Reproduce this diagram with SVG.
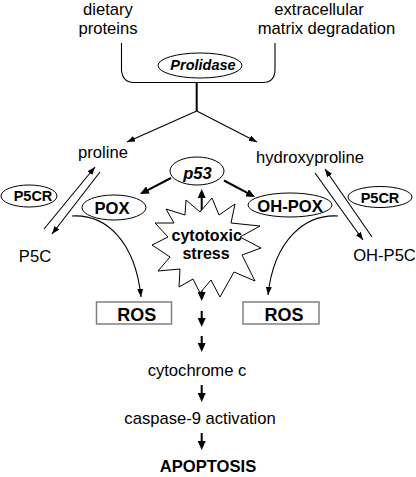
<svg xmlns="http://www.w3.org/2000/svg" width="416" height="477" viewBox="0 0 416 477">
<style>
text{font-family:"Liberation Sans",Arial,sans-serif;fill:#000;text-anchor:middle}
.t{font-size:16.6px}
.b{font-weight:bold}
.bi{font-weight:bold;font-style:italic}
.el{fill:#fff;stroke:#000;stroke-width:1}
.ln{fill:none;stroke:#000;stroke-width:1.1}
.tk{fill:none;stroke:#000;stroke-width:2}
.box{fill:#fff;stroke:#808080;stroke-width:1.5}
</style>
<defs>
<marker id="ah" viewBox="0 0 8 6" refX="8" refY="3" markerWidth="8" markerHeight="6" orient="auto" markerUnits="userSpaceOnUse"><path d="M0,0L8,3L0,6z" fill="#000"/></marker>
<marker id="ahb" viewBox="0 0 9 8" refX="3" refY="4" markerWidth="9" markerHeight="8" orient="auto" markerUnits="userSpaceOnUse"><path d="M0,0L9,4L0,8z" fill="#000"/></marker>
</defs>
<rect width="416" height="477" fill="#fff"/>
<g id="sources">
<text class="t" x="108" y="14.5">dietary</text>
<text class="t" x="108" y="33.5">proteins</text>
<text class="t" x="319" y="14.5">extracellular</text>
<text class="t" x="326.5" y="33.5">matrix degradation</text>
<path class="ln" d="M121.5,43 L121.5,70 Q122.5,82.5 134,82.5 L263,82.5 Q274.5,82.5 275,70 L275,43"/>
</g>
<g id="prolidase">
<ellipse class="el" cx="200" cy="65.5" rx="42" ry="12.5"/>
<text class="bi" x="203" y="69.5" font-size="14.5">Prolidase</text>
</g>
<g id="connectors">
<line class="tk" x1="196.7" y1="83" x2="196.7" y2="111"/>
<line class="ln" x1="196.7" y1="111" x2="127" y2="142" marker-end="url(#ah)" stroke-width="1.3"/>
<line class="ln" x1="196.7" y1="111" x2="257" y2="142" marker-end="url(#ah)" stroke-width="1.3"/>
<line class="ln" x1="44" y1="229" x2="95" y2="167" marker-end="url(#ah)"/>
<line class="ln" x1="100" y1="172" x2="52" y2="234" marker-end="url(#ah)"/>
<line class="ln" x1="315" y1="173" x2="363" y2="240" marker-end="url(#ah)"/>
<line class="ln" x1="372" y1="237" x2="325" y2="169" marker-end="url(#ah)"/>
<path class="ln" d="M72,216 C105,214 135,240 141,297" marker-end="url(#ah)"/>
<path class="ln" d="M338,216 C305,214 274,240 268,295" marker-end="url(#ah)"/>
<line class="tk" x1="171" y1="178" x2="145.3" y2="191.3" marker-end="url(#ahb)"/>
<line class="tk" x1="224" y1="180.5" x2="249.7" y2="194.2" marker-end="url(#ahb)"/>
<line class="tk" x1="201.7" y1="212" x2="201.7" y2="195" marker-end="url(#ahb)"/>
<line class="tk" x1="201.7" y1="286" x2="201.7" y2="295" marker-end="url(#ahb)"/>
<line class="tk" x1="201.7" y1="311" x2="201.7" y2="321" marker-end="url(#ahb)"/>
<line class="tk" x1="201.7" y1="336" x2="201.7" y2="346" marker-end="url(#ahb)"/>
<line class="tk" x1="201.7" y1="385" x2="201.7" y2="396" marker-end="url(#ahb)"/>
<line class="tk" x1="201.7" y1="433" x2="201.7" y2="444" marker-end="url(#ahb)"/>
</g>
<g id="proline"><text class="t" x="103" y="158">proline</text></g>
<g id="hydroxyproline"><text class="t" x="310" y="162.5">hydroxyproline</text></g>
<g id="p5c"><text class="t" x="35" y="261.5">P5C</text></g>
<g id="oh-p5c"><text class="t" x="384.5" y="260.5">OH-P5C</text></g>
<g id="p5cr-left">
<ellipse class="el" cx="29" cy="196" rx="28" ry="11"/>
<text class="b" x="33" y="201" font-size="14.5">P5CR</text>
</g>
<g id="p5cr-right">
<ellipse class="el" cx="380" cy="197" rx="32" ry="10.5"/>
<text class="b" x="380" y="202.5" font-size="14.5">P5CR</text>
</g>
<g id="pox">
<ellipse class="el" cx="114" cy="207.5" rx="32" ry="12.5"/>
<text class="b" x="112" y="214" font-size="16.6">POX</text>
</g>
<g id="oh-pox">
<ellipse class="el" cx="290" cy="205" rx="42" ry="12"/>
<text class="b" x="290" y="211.5" font-size="16.6">OH-POX</text>
</g>
<g id="p53">
<ellipse class="el" cx="197" cy="171" rx="27" ry="14"/>
<text class="bi" x="197.5" y="179" font-size="16.6">p53</text>
</g>
<g id="stress">
<polygon class="el" points="212,198 219,215 235,204 231,223 260,226 240,237 261,248 242,255 255,281 234,272 220,297 211,280 200,293 193,279 179,287 180,269 158,271 170,257 152,245 168,237 155,223 174,223 166,209 185,215 186,200 200,212"/>
<text class="b" x="206.7" y="240.5" font-size="16">cytotoxic</text>
<text class="b" x="206" y="258.5" font-size="16">stress</text>
</g>
<g id="ros-left">
<rect class="box" x="96.5" y="302" width="75" height="22"/>
<text class="b" x="136.7" y="320.5" font-size="18">ROS</text>
</g>
<g id="ros-right">
<rect class="box" x="243" y="302" width="76" height="22"/>
<text class="b" x="284" y="320.5" font-size="18">ROS</text>
</g>
<g id="cytochrome"><text class="t" x="197" y="376">cytochrome c</text></g>
<g id="caspase"><text class="t" x="200" y="424">caspase-9 activation</text></g>
<g id="apoptosis"><text class="b" x="208" y="472" font-size="16.6">APOPTOSIS</text></g>
</svg>
